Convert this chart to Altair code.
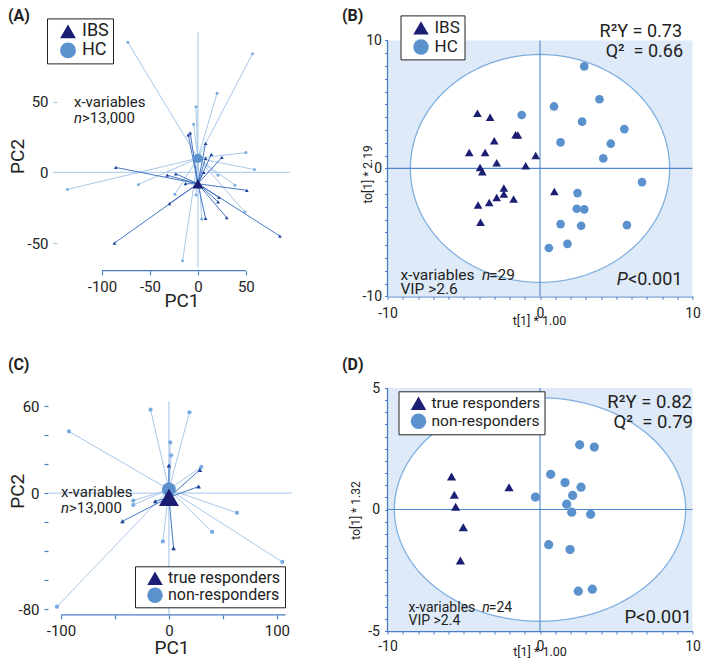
import altair as alt
import numpy as np
import pandas as pd

FONT = "Roboto"
NAVY = "#1b1f73"
STEEL = "#5b91cd"
SPOKE_LIGHT = "#a9c8ea"
SPOKE_DARK = "#4677c6"
PT_LIGHT = "#78ace2"
PT_DARK = "#21449a"
CROSS_LIGHT = "#b7d1ee"
AXIS_BLUE = "#4a7cc6"
BG = "#deeaf7"
ELL = "#7fafe0"
CROSS_B = "#4f88cc"
TXT = "#222222"

# ---------------- Panel A (PCA, IBS vs HC) ----------------
A_GROUPS = ["IBS", "HC"]
A_HC_X = [-73, 57, 20, -2, -4.5, 50, 59, -136, -62, 21, 38.6, -24, -2, 49, 4, -16]
A_HC_Y = [92, 84, 56, 46.5, 34, 14, 2, -12, -8.5, -2, -9, -15.5, -16, -28, -33, -62.5]
A_IBS_X = [-10, -8, 8, 14, 25, 8, 6, -85.5, -32, -23, -13, 51, 22, 21, -29.7, 8, 30, 85.5, -87]
A_IBS_Y = [26.5, 28, 20.5, 12.7, 10.6, 10, 0, 3.5, -2, -1, -8, -12.7, -17.7, -20.8, -22, -32.5, -32, -45, -50]
A_CENT_IBS = [0, -8]
A_CENT_HC = [0, 10]
A_XTICKS = [-100, -50, 0, 50]
A_XLABELS = [-100, -50, 0, 50]
A_YTICKS = [-50, 0, 50]

# ---------------- Panel B (OPLS-DA, IBS vs HC) ----------------
B_IBS_X = [-4.1, -3.27, -3.0, -4.64, -3.6, -2.84, -1.6, -1.45, -0.94, -0.28, -3.93, -3.78,
           -2.37, -2.37, -2.84, -3.33, -1.73, -4.06, -3.9, 0.94]
B_IBS_Y = [4.3, 4.0, 2.16, 1.25, 1.25, 0.44, 2.63, 2.6, 0.2, 1.0, 0.08, -0.26,
           -1.54, -2.0, -2.27, -2.66, -2.4, -2.86, -4.2, -1.8]
B_HC_X = [2.9, 3.9, 0.92, -1.2, 2.76, 5.53, 1.35, 4.64, 4.15, 6.69, 2.46, 2.41, 2.9, 1.35,
          2.7, 5.7, 1.8, 0.58]
B_HC_Y = [7.97, 5.4, 4.84, 4.17, 3.65, 3.07, 2.03, 1.93, 0.78, -1.07, -1.93, -3.15, -3.2,
          -4.35, -4.48, -4.43, -5.9, -6.22]
B_ELLIPSE = [8.5, 8.9]

# ---------------- Panel C (PCA, responders) ----------------
C_GROUPS = ["true responders", "non-responders"]
C_NR_X = [-17, 19, -92.6, 1.2, 2, 30, 63, 40, 105, -33, -33, -5.6, -103.7]
C_NR_Y = [57.5, 55.7, 42.5, 35, 26, 18, -13.6, -26.8, -47.5, -5.2, -8.2, -33.4, -78.4]
C_TR_X = [0, 28.7, 27.5, -12.7, -43, 4.3]
C_TR_Y = [19, 16, 4.5, -5.7, -19.5, -38]
C_CENT_TR = [0, -3]
C_CENT_NR = [0, 2.5]
C_XTICKS = [-100, -50, 0, 50, 100]
C_XLABELS = [-100, 0, 100]
C_YTICKS = [60, 40, 20, 0, -20, -40, -60, -80]
C_YLABELS = [60, 0, -80]

# ---------------- Panel D (OPLS-DA, responders) ----------------
D_TR_X = [-5.8, -5.62, -5.53, -5.03, -5.22, -2.03]
D_TR_Y = [1.36, 0.61, 0.11, -0.73, -2.1, 0.92]
D_NR_X = [2.6, 3.56, 0.7, 1.64, 2.69, -0.3, 2.14, 1.75, 2.08, 3.32, 0.57, 1.97, 2.51, 3.43]
D_NR_Y = [2.66, 2.57, 1.45, 1.11, 0.92, 0.51, 0.58, 0.22, -0.11, -0.2, -1.45, -1.65, -3.36, -3.28]
D_ELLIPSE = [9.55, 4.6]

DUMMY = pd.DataFrame({"k": [0]})


def label(s, x, y, size, align="left", style=None, weight=None, angle=None, color=TXT):
    kw = dict(text=s, align=align, baseline="alphabetic", fontSize=size, font=FONT, color=color)
    if style:
        kw["fontStyle"] = style
    if weight:
        kw["fontWeight"] = weight
    if angle is not None:
        kw["angle"] = angle
    return alt.Chart(DUMMY).mark_text(**kw).encode(x=alt.value(x), y=alt.value(y))


def only(values):
    cond = " || ".join("datum.value == {}".format(v) for v in values)
    return "(" + cond + ") ? '' + datum.value : ''"


def legend(x, y, size, sym=240):
    return alt.Legend(title=None, orient="none", legendX=x, legendY=y, strokeColor="#222222",
                      fillColor="white", padding=4, symbolOffset=8, labelOffset=5, rowPadding=1,
                      symbolSize=sym, symbolStrokeWidth=0, labelFontSize=size, labelFont=FONT,
                      labelColor=TXT)


def spokes(xs, ys, c):
    return pd.DataFrame({"x": xs, "y": ys, "cx": [c[0]] * len(xs), "cy": [c[1]] * len(xs)})


def pca_panel(light_x, light_y, dark_x, dark_y, cent_dark, cent_light, groups, xdom, ydom,
              xticks, xlabels, yticks, ylabels, hline, vline, axis_line, yoffset, ytick_color,
              light_size, dark_size, cdark_size, clight_size, leg):
    xs = alt.Scale(domain=xdom, nice=False, zero=False)
    ys = alt.Scale(domain=ydom, nice=False, zero=False)
    ax_x = alt.Axis(values=xticks, labelExpr=only(xlabels),
                    domain=False, tickColor=AXIS_BLUE, tickSize=4, tickWidth=1.2, labelPadding=5,
                    labelFontSize=15, labelFlush=False, labelOverlap=False, title=None, grid=False)
    ax_y = alt.Axis(values=yticks, labelExpr=only(ylabels), domain=False,
                    tickColor=ytick_color, tickSize=4, tickWidth=1.2, labelPadding=5, offset=yoffset,
                    labelFontSize=15, labelOverlap=False, title=None, grid=False)

    def X(f):
        return alt.X(f, type="quantitative", scale=xs, axis=ax_x, title=None)

    def Y(f):
        return alt.Y(f, type="quantitative", scale=ys, axis=ax_y, title=None)

    cscale = alt.Scale(domain=groups, range=[NAVY, STEEL])
    sscale = alt.Scale(domain=groups, range=["triangle-up", "circle"])

    hdf = pd.DataFrame({"x": [hline[0]], "x2": [hline[1]], "y": [0]})
    l_h = alt.Chart(hdf).mark_rule(color=CROSS_LIGHT, strokeWidth=1.3).encode(
        x=X("x"), x2="x2:Q", y=Y("y"))
    vdf = pd.DataFrame({"x": [0], "y": [vline[0]], "y2": [vline[1]]})
    l_v = alt.Chart(vdf).mark_rule(color=CROSS_LIGHT, strokeWidth=1.3).encode(
        x=X("x"), y=Y("y"), y2="y2:Q")
    adf = pd.DataFrame({"x": [axis_line[0]], "x2": [axis_line[1]], "y": [ydom[0]]})
    l_axis = alt.Chart(adf).mark_rule(color=AXIS_BLUE, strokeWidth=1.3).encode(
        x=X("x"), x2="x2:Q", y=Y("y"))
    l_sp_l = alt.Chart(spokes(light_x, light_y, cent_light)).mark_rule(
        color=SPOKE_LIGHT, strokeWidth=1).encode(x=X("x"), y=Y("y"), x2="cx:Q", y2="cy:Q")
    l_sp_d = alt.Chart(spokes(dark_x, dark_y, cent_dark)).mark_rule(
        color=SPOKE_DARK, strokeWidth=1).encode(x=X("x"), y=Y("y"), x2="cx:Q", y2="cy:Q")
    l_pt_l = alt.Chart(pd.DataFrame({"x": light_x, "y": light_y})).mark_point(
        filled=True, shape="circle", size=light_size, color=PT_LIGHT, opacity=1).encode(
        x=X("x"), y=Y("y"))
    l_pt_d = alt.Chart(pd.DataFrame({"x": dark_x, "y": dark_y})).mark_point(
        filled=True, shape="triangle-up", size=dark_size, color=PT_DARK, opacity=1).encode(
        x=X("x"), y=Y("y"))
    cl = pd.DataFrame({"x": [cent_light[0]], "y": [cent_light[1]], "group": [groups[1]]})
    cd = pd.DataFrame({"x": [cent_dark[0]], "y": [cent_dark[1]], "group": [groups[0]]})
    enc = dict(color=alt.Color("group:N", scale=cscale, legend=leg),
               shape=alt.Shape("group:N", scale=sscale, legend=leg))
    l_cl = alt.Chart(cl).mark_point(filled=True, size=clight_size, opacity=1).encode(
        x=X("x"), y=Y("y"), **enc)
    l_cd = alt.Chart(cd).mark_point(filled=True, size=cdark_size, opacity=1).encode(
        x=X("x"), y=Y("y"), **enc)
    return [l_h, l_v, l_axis, l_sp_l, l_sp_d, l_pt_l, l_pt_d, l_cl, l_cd]


# ---------- Panel A ----------
A_W, A_H = 242, 239.7
a_layers = pca_panel(A_HC_X, A_HC_Y, A_IBS_X, A_IBS_Y, A_CENT_IBS, A_CENT_HC, A_GROUPS,
                     [-156.25, 96], [-69.5, 100], A_XTICKS, A_XLABELS, A_YTICKS, A_YTICKS,
                     [-151, 96], [-67, 99], [-100, 50], -9, SPOKE_LIGHT,
                     9, 14, 120, 85, legend(-1, -12.6, 18, 250))
a_text = [
    label("(A)", -40, -9.8, 16, weight="bold"),
    label("x-variables", 26, 76.4, 15),
    label("n", 26, 92.4, 15, style="italic"),
    label(">13,000", 34, 92.4, 15),
    label("PC1", 134, 276.4, 19, align="center"),
    label("PC2", -24, 125.4, 19, align="center", angle=270),
]
chartA = alt.layer(*a_layers, *a_text).properties(width=A_W, height=A_H)

# ---------- Panel C (plot area extended upward to share a row top with D) ----------
C_EXT = 12.3
C_PLOT = 214.5
C_PX = C_PLOT / 148.0
C_W, C_H = 244, C_PLOT + C_EXT
c_layers = pca_panel(C_NR_X, C_NR_Y, C_TR_X, C_TR_Y, C_CENT_TR, C_CENT_NR, C_GROUPS,
                     [-112, 114], [-84, 64 + C_EXT / C_PX], C_XTICKS, C_XLABELS, C_YTICKS, C_YLABELS,
                     [-112, 114], [-84, 63], [-100, 108], 0, AXIS_BLUE,
                     18, 22, 400, 190, legend(87, C_H - 48.5, 16, 240))
c_text = [
    label("(C)", -40, -30 + C_EXT, 16, weight="bold"),
    label("x-variables", 13, 97 + C_EXT, 15),
    label("n", 13, 113 + C_EXT, 15, style="italic"),
    label(">13,000", 21, 113 + C_EXT, 15),
    label("PC1", 124, C_H + 39, 19, align="center"),
    label("PC2", -24, 91 + C_EXT, 19, align="center", angle=270),
]
chartC = alt.layer(*c_layers, *c_text).properties(width=C_W, height=C_H)


# ---------- OPLS-DA panels ----------
def opls_panel(g_x, g_y, o_x, o_y, groups, ellipse, ylim, ytop, yticks, leg, pt_size,
               xlabpad, ylabpad):
    xs = alt.Scale(domain=[-10, 10], nice=False, zero=False)
    ys = alt.Scale(domain=[-ylim, ytop], nice=False, zero=False)
    ax_x = alt.Axis(values=list(range(-10, 11)), labelExpr=only([-10, 0, 10]),
                    domainColor=AXIS_BLUE, domainWidth=1.3, tickColor=AXIS_BLUE, tickSize=3,
                    labelPadding=xlabpad, labelFontSize=14, labelFlush=False, labelOverlap=False,
                    title=None, grid=False)
    ax_y = alt.Axis(values=yticks, labelExpr=only([ylim, 0, -ylim]), domain=False,
                    tickColor=AXIS_BLUE, tickSize=3,
                    labelPadding=ylabpad, labelFontSize=14, labelOverlap=False, title=None, grid=False)

    def X(f):
        return alt.X(f, type="quantitative", scale=xs, axis=ax_x, title=None)

    def Y(f):
        return alt.Y(f, type="quantitative", scale=ys, axis=ax_y, title=None)

    bg = pd.DataFrame({"x": [-10], "x2": [10], "y": [-ylim], "y2": [ylim]})
    l_bg = alt.Chart(bg).mark_rect(color=BG, opacity=1).encode(
        x=X("x"), x2="x2:Q", y=Y("y"), y2="y2:Q")
    t_half = np.linspace(0, np.pi, 121)
    half = pd.DataFrame({"x": ellipse[0] * np.cos(t_half), "y": ellipse[1] * np.sin(t_half),
                         "y2": -ellipse[1] * np.sin(t_half)})
    t_full = np.linspace(0, 2 * np.pi, 241)
    full = pd.DataFrame({"x": ellipse[0] * np.cos(t_full), "y": ellipse[1] * np.sin(t_full),
                         "i": np.arange(len(t_full))})
    l_fill = alt.Chart(half).mark_area(color="white", opacity=1).encode(
        x=X("x"), y=Y("y"), y2="y2:Q")
    l_line = alt.Chart(full).mark_line(color=ELL, strokeWidth=1.3).encode(
        x=X("x"), y=Y("y"), order="i:Q")
    vdf = pd.DataFrame({"x": [0], "y": [-ylim], "y2": [ylim]})
    l_vx = alt.Chart(vdf).mark_rule(color=CROSS_B, strokeWidth=1.1).encode(
        x=X("x"), y=Y("y"), y2="y2:Q")
    hdf = pd.DataFrame({"x": [-10], "x2": [10], "y": [0]})
    l_hy = alt.Chart(hdf).mark_rule(color=CROSS_B, strokeWidth=1.1).encode(
        x=X("x"), x2="x2:Q", y=Y("y"))
    ydf = pd.DataFrame({"x": [-10], "y": [-ylim], "y2": [ylim]})
    l_yaxis = alt.Chart(ydf).mark_rule(color=AXIS_BLUE, strokeWidth=1.3).encode(
        x=X("x"), y=Y("y"), y2="y2:Q")
    pts = pd.DataFrame({"x": list(g_x) + list(o_x), "y": list(g_y) + list(o_y),
                        "group": [groups[0]] * len(g_x) + [groups[1]] * len(o_x)})
    l_pts = alt.Chart(pts).mark_point(filled=True, size=pt_size, opacity=1).encode(
        x=X("x"), y=Y("y"),
        color=alt.Color("group:N", scale=alt.Scale(domain=groups, range=[NAVY, STEEL]), legend=leg),
        shape=alt.Shape("group:N", scale=alt.Scale(domain=groups, range=["triangle-up", "circle"]),
                        legend=leg))
    return [l_bg, l_fill, l_line, l_vx, l_hy, l_yaxis, l_pts]


# Panel B: plot area extended 9.4px upward to share a row top with A
B_EXT = 9.4
B_W, B_H = 305, 256 + B_EXT
b_layers = opls_panel(B_IBS_X, B_IBS_Y, B_HC_X, B_HC_Y, A_GROUPS, B_ELLIPSE, 10, 10 + B_EXT / 12.8,
                      list(range(-10, 11)), legend(13, -25 + B_EXT, 17, 240), 75, 7, 3)
b_text = [
    label("(B)", -45.5, -19.2 + B_EXT, 16, weight="bold"),
    label("R²Y = 0.73", B_W - 10.5, -3 + B_EXT, 18, align="right"),
    label("Q²\u00a0 = 0.66", B_W - 9.5, 17 + B_EXT, 18, align="right"),
    label("x-variables", 13, 240 + B_EXT, 15.5),
    label("n", 94.5, 240 + B_EXT, 15.5, style="italic"),
    label("=29", 101.5, 240 + B_EXT, 15.5),
    label("VIP >2.6", 13, 254 + B_EXT, 15.5),
    label("P", B_W - 75.8, 245 + B_EXT, 18, style="italic"),
    label("<0.001", B_W - 64.5, 245 + B_EXT, 18),
    label("to[1] * 2.19", -15.5, 134 + B_EXT, 12, align="center", angle=270),
    label("t[1] * 1.00", B_W / 2 - 0.5, 285 + B_EXT, 12.5, align="center"),
]
chartB = alt.layer(*b_layers, *b_text).properties(width=B_W, height=B_H)

D_W, D_H = 305, 243
d_layers = opls_panel(D_TR_X, D_TR_Y, D_NR_X, D_NR_Y, C_GROUPS, D_ELLIPSE, 5, 5,
                      [v / 2 for v in range(-10, 11)], legend(11, 3.3, 15.5, 240), 85, 5, 5)
d_text = [
    label("(D)", -45.5, -17.7, 16, weight="bold"),
    label("R²Y = 0.82", D_W - 0.5, 20.3, 18.5, align="right"),
    label("Q²\u00a0 = 0.79", D_W + 0.5, 40.3, 18.5, align="right"),
    label("x-variables", 21, D_H - 19.3, 14),
    label("n", 94.7, D_H - 19.3, 14, style="italic"),
    label("=24", 101.3, D_H - 19.3, 14),
    label("VIP >2.4", 21, D_H - 6.3, 14),
    label("P<0.001", D_W - 0.5, D_H - 8.3, 18.5, align="right"),
    label("to[1] * 1.32", -28, D_H / 2 + 1, 12, align="center", angle=270),
    label("t[1] * 1.00", D_W / 2, D_H + 24.7, 12.5, align="center"),
]
chartD = alt.layer(*d_layers, *d_text).properties(width=D_W, height=D_H)

chart = (
    alt.concat(chartA, chartB, chartC, chartD, columns=2, bounds="flush",
               spacing=alt.RowColnumber(row=91, column=95.5))
    .resolve_scale(color="independent", shape="independent")
    .properties(padding=0)
    .configure_view(stroke=None)
    .configure_axis(labelFont=FONT, labelColor=TXT, grid=False)
    .configure_legend(labelFont=FONT)
)

chart.save("out.html", embed_options={"renderer": "svg", "actions": False})
